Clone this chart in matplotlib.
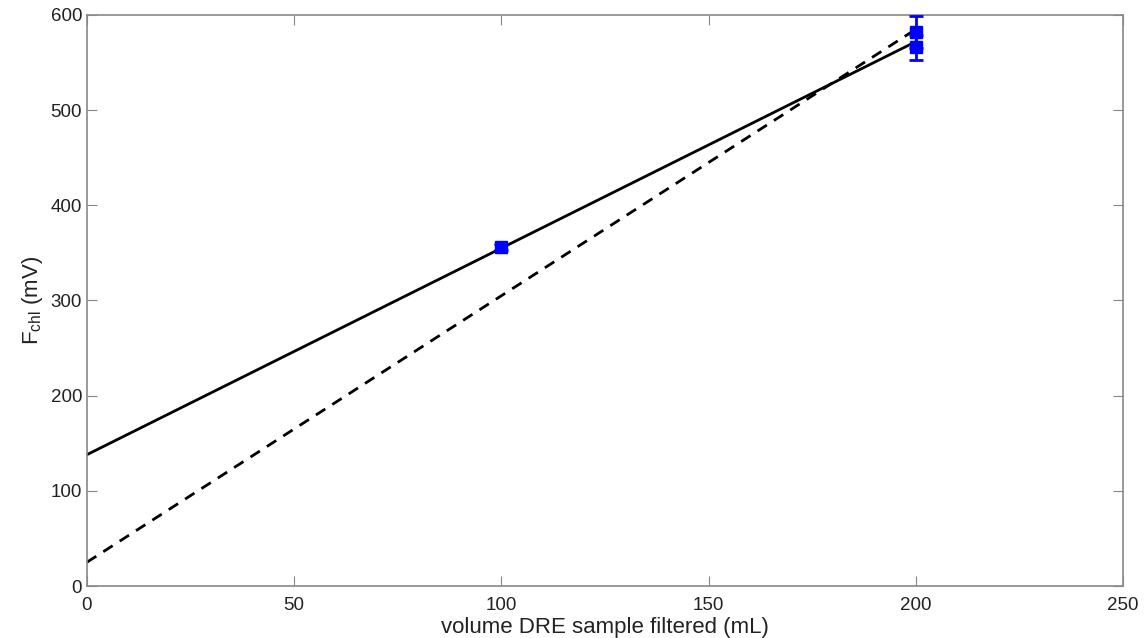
import matplotlib.pyplot as plt

# measured points
volume = [100, 200, 200]
fchl = [356, 582, 566]
fchl_err = [3, 17, 13]

# fitted lines (end points)
fit_x = [0, 200]
fit_solid = [138, 572]
fit_dashed = [25, 585]

xticks = [0, 50, 100, 150, 200, 250]
yticks = [0, 100, 200, 300, 400, 500, 600]

if __name__ == "__main__":
    plt.rcParams['font.family'] = ['Liberation Sans', 'DejaVu Sans']
    fig = plt.figure(figsize=(11.44, 6.38), dpi=100)
    ax = fig.add_axes([0.076, 0.0815, 0.9057, 0.895])

    ax.plot(fit_x, fit_solid, color='black', lw=2)
    ax.plot(fit_x, fit_dashed, color='black', lw=2, ls=(0, (4, 3)))
    ax.errorbar(volume, fchl, yerr=fchl_err, fmt='s', color='blue',
                ms=8, elinewidth=2, capsize=5, capthick=2, zorder=3)

    ax.set_xlim(0, 250)
    ax.set_ylim(0, 600)
    ax.set_xticks(xticks)
    ax.set_yticks(yticks)
    ax.tick_params(direction='in', length=7, labelsize=13.5, color='#888888',
                   top=True, right=True, labelcolor='#222222')
    ax.tick_params(axis='x', pad=8)
    for s in ax.spines.values():
        s.set_color('#888888')
        s.set_linewidth(1.2)
    ax.set_xlabel('volume DRE sample filtered (mL)', fontsize=16, labelpad=2,
                  color='#222222')
    ax.set_ylabel('F$_{\\mathregular{chl}}$ (mV)', fontsize=16, color='#222222')

    plt.savefig("out.png", dpi=100)
